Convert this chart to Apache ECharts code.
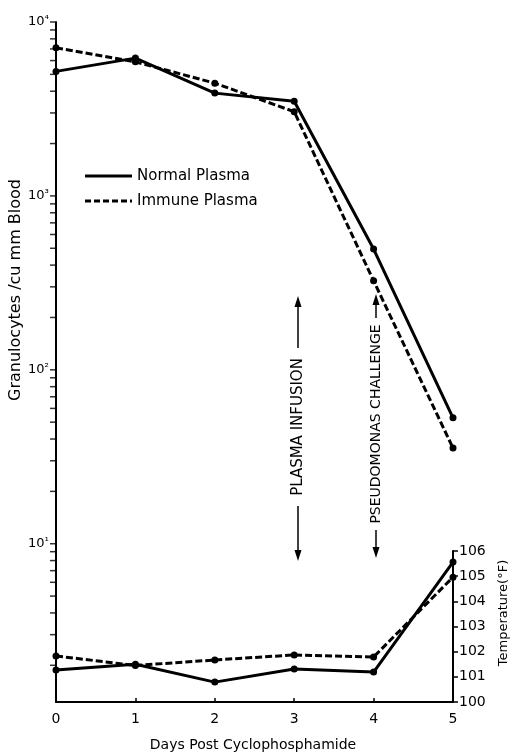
<!DOCTYPE html>
<html>
<head>
<meta charset="UTF-8">
<title>Granulocytes</title>
<style>
	* { margin: 0; padding: 0; }
	html, body { background: #fff; }
	#chart { width: 511px; height: 753px; }
</style>
</head>
<body>
<div id="chart"></div>
<script src="https://cdn.jsdelivr.net/npm/echarts@6/dist/echarts.min.js"></script>
<script>
// values
var days = [0, 1, 2, 3, 4, 5];
var normalGran = [5200, 6200, 3900, 3500, 495, 53];
var immuneGran = [7100, 5900, 4450, 3050, 325, 35.5];
var normalTemp = [101.27, 101.5, 100.79, 101.31, 101.19, 105.56];
var immuneTemp = [101.83, 101.45, 101.67, 101.87, 101.79, 104.96];
var granTicks = [10, 100, 1000, 10000];

var granMin = 1.23, granMax = 10000;
var font = 'DejaVu Sans';
var sup = { '1': '¹', '2': '²', '3': '³', '4': '⁴' };

// log ticks 2..9 in each decade and the powers of ten
var logTicks = [];
[1, 10, 100, 1000].forEach(function (d) {
	for (var k = 1; k <= 9; k++) {
		if (k * d >= granMin) logTicks.push(k * d);
	}
});
logTicks.push(10000);

function pairs(ys) {
	return days.map(function (d, i) { return [d, ys[i]]; });
}

function arrow(x, tipY, dir) {
	// dir = -1 points up, 1 points down
	return {
		type: 'polygon',
		shape: { points: [[x, tipY], [x - 3.5, tipY - dir * 11], [x + 3.5, tipY - dir * 11]] },
		style: { fill: '#000' }
	};
}

function vline(x, y1, y2) {
	return { type: 'line', shape: { x1: x, y1: y1, x2: x, y2: y2 }, style: { stroke: '#000', lineWidth: 1.5 } };
}

var chart = echarts.init(document.getElementById('chart'));

var lineSolid = { color: '#000', width: 3, type: 'solid' };
var lineDash = { color: '#000', width: 3, type: [7, 3] };

chart.setOption({
	animation: false,
	grid: [
		{ left: 56, right: 58, top: 22, bottom: 51 },
		{ left: 56, right: 58, top: 551, bottom: 51 }
	],
	xAxis: [{
		type: 'value', gridIndex: 0, min: 0, max: 5, interval: 1,
		axisLine: { onZero: false, lineStyle: { color: '#000', width: 2 } },
		axisTick: { show: true, inside: true, length: 4, lineStyle: { color: '#000', width: 1.5 } },
		axisLabel: { color: '#000', fontFamily: font, fontSize: 14, margin: 10 },
		splitLine: { show: false }
	}, {
		type: 'value', gridIndex: 1, min: 0, max: 5, interval: 1, show: false
	}],
	yAxis: [{
		type: 'log', logBase: 10, gridIndex: 0, min: granMin, max: granMax,
		axisLine: { show: true, onZero: false, lineStyle: { color: '#000', width: 2 } },
		axisTick: { show: false },
		axisLabel: {
			customValues: granTicks, margin: 7, color: '#000',
			formatter: function (v) {
				var p = Math.round(Math.log10(v));
				return '{a|10}{b|' + sup[p] + '}';
			},
			rich: {
				a: { fontFamily: font, fontSize: 13, color: '#000' },
				b: { fontFamily: font, fontSize: 11, color: '#000', padding: [0, 0, 4, 0] }
			}
		},
		splitLine: { show: false }
	}, {
		type: 'value', gridIndex: 1, position: 'right', min: 100, max: 106, interval: 1,
		axisLine: { show: true, onZero: false, lineStyle: { color: '#000', width: 2 } },
		axisTick: { show: true, length: 5, lineStyle: { color: '#000', width: 1.5 } },
		axisLabel: { color: '#000', fontFamily: font, fontSize: 14, margin: 6, showMinLabel: true, showMaxLabel: true },
		splitLine: { show: false }
	}],
	series: [{
		// log ticks along the left axis
		name: 'ticks', type: 'scatter', xAxisIndex: 0, yAxisIndex: 0,
		data: logTicks.map(function (v) { return [0, v]; }),
		symbol: 'rect', symbolSize: [5, 1.5], symbolOffset: [-3.5, 0],
		itemStyle: { color: '#000' }, silent: true, clip: false, z: 5
	}, {
		name: 'Normal Plasma', type: 'line', xAxisIndex: 0, yAxisIndex: 0,
		data: pairs(normalGran), symbol: 'circle', symbolSize: 7,
		itemStyle: { color: '#000' }, lineStyle: lineSolid
	}, {
		name: 'Immune Plasma', type: 'line', xAxisIndex: 0, yAxisIndex: 0,
		data: pairs(immuneGran), symbol: 'circle', symbolSize: 7,
		itemStyle: { color: '#000' }, lineStyle: lineDash
	}, {
		name: 'Normal Temp', type: 'line', xAxisIndex: 1, yAxisIndex: 1,
		data: pairs(normalTemp), symbol: 'circle', symbolSize: 7,
		itemStyle: { color: '#000' }, lineStyle: lineSolid
	}, {
		name: 'Immune Temp', type: 'line', xAxisIndex: 1, yAxisIndex: 1,
		data: pairs(immuneTemp), symbol: 'circle', symbolSize: 7,
		itemStyle: { color: '#000' }, lineStyle: lineDash
	}],
	graphic: [
		// legend
		{ type: 'line', shape: { x1: 85, y1: 176, x2: 132, y2: 176 }, style: { stroke: '#000', lineWidth: 3 } },
		{ type: 'line', shape: { x1: 85, y1: 201, x2: 132, y2: 201 }, style: { stroke: '#000', lineWidth: 3, lineDash: [6, 3] } },
		{ type: 'text', x: 137, y: 176, style: { text: 'Normal Plasma', font: '15px "DejaVu Sans"', fill: '#000', verticalAlign: 'middle' } },
		{ type: 'text', x: 137, y: 201, style: { text: 'Immune Plasma', font: '15px "DejaVu Sans"', fill: '#000', verticalAlign: 'middle' } },
		// axis names
		{ type: 'text', x: 16, y: 290, rotation: Math.PI / 2,
			style: { text: 'Granulocytes /cu mm Blood', font: '16px "DejaVu Sans"', fill: '#000', align: 'center', verticalAlign: 'middle' } },
		{ type: 'text', x: 504, y: 613, rotation: Math.PI / 2,
			style: { text: 'Temperature(°F)', font: '13px "DejaVu Sans"', fill: '#000', align: 'center', verticalAlign: 'middle' } },
		{ type: 'text', x: 253, y: 745,
			style: { text: 'Days Post Cyclophosphamide', font: '14px "DejaVu Sans"', fill: '#000', align: 'center', verticalAlign: 'middle' } },
		// plasma infusion marker
		arrow(298, 296, -1), vline(298, 304, 348),
		{ type: 'text', x: 298, y: 427, rotation: Math.PI / 2,
			style: { text: 'PLASMA INFUSION', font: '15px "DejaVu Sans"', fill: '#000', align: 'center', verticalAlign: 'middle' } },
		vline(298, 506, 552), arrow(298, 561, 1),
		// pseudomonas challenge marker
		arrow(376, 294, -1), vline(376, 302, 318),
		{ type: 'text', x: 376, y: 424, rotation: Math.PI / 2,
			style: { text: 'PSEUDOMONAS CHALLENGE', font: '14px "DejaVu Sans"', fill: '#000', align: 'center', verticalAlign: 'middle' } },
		vline(376, 530, 549), arrow(376, 558, 1)
	]
});
</script>
</body>
</html>
